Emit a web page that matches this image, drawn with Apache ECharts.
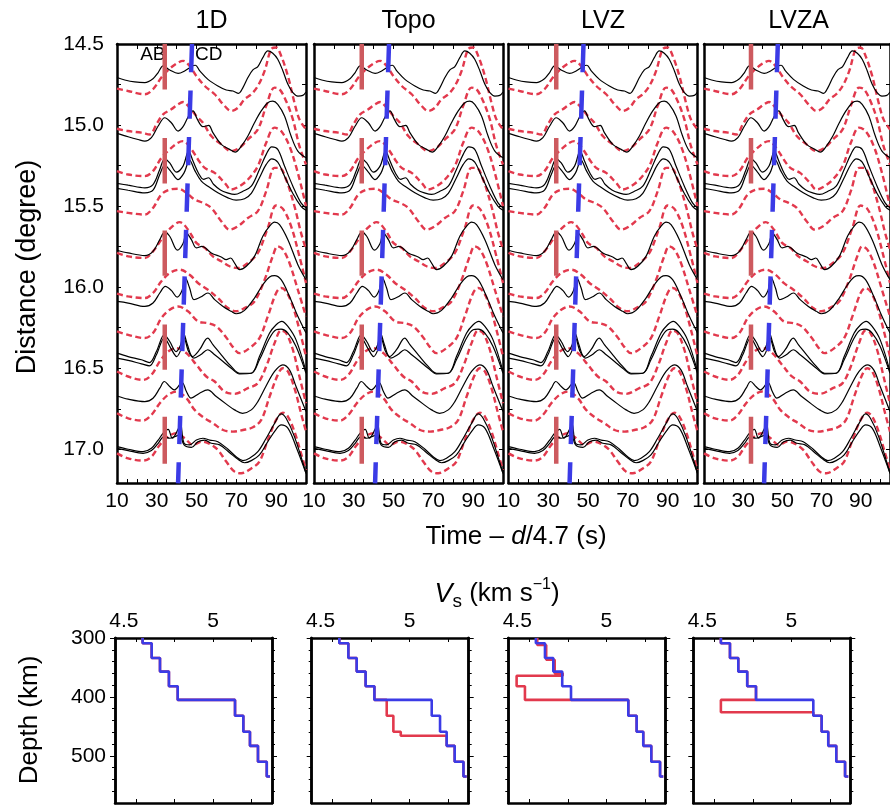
<!DOCTYPE html>
<html><head><meta charset="utf-8">
<script src="https://cdn.jsdelivr.net/npm/echarts@6/dist/echarts.min.js"></script>
<style>html,body{margin:0;padding:0;background:#fff}#c{width:890px;height:806px}</style>
</head><body><div id="c"></div>
<script>
// ---------------- data ----------------
const panelNames = ['1D', 'Topo', 'LVZ', 'LVZA'];
const timeLabels = [10, 30, 50, 70, 90];
const timeTicks = [10,15,20,25,30,35,40,45,50,55,60,65,70,75,80,85,90,95,100];
const timeTicksTop = [20,30,40,50,60,70,80,90,100];
const distLabels = [14.5, 15.0, 15.5, 16.0, 16.5, 17.0];
const distTicks = [14.75,15.0,15.25,15.5,15.75,16.0,16.25,16.5,16.75,17.0];
const vsLabels = [4.5, 5];
const vsTicks = [4.5, 4.75, 5.0, 5.25];
const depthLabels = [300, 400, 500];
const depthTicks = [320,340,360,380,420,440,460,480,520,540,560];

// observed traces (black) : [time s, distance deg]
const obs01 = [[10,14.707],[13.9,14.722],[18.9,14.734],[24,14.738],[28.1,14.714],[30.7,14.676],[33.2,14.635],[36.5,14.660],[40.7,14.681],[44,14.666],[47.4,14.639],[49.4,14.631],[51.6,14.666],[55.7,14.718],[60.7,14.759],[64.9,14.784],[68.3,14.790],[71.1,14.804],[73.3,14.769],[75.8,14.707],[78.3,14.660],[80.8,14.639],[83.3,14.584],[85.8,14.543],[88.3,14.557],[90.8,14.594],[93.4,14.666],[95.9,14.749],[98.4,14.800],[100.9,14.821],[103.4,14.817],[105,14.796]];
const obs02 = [[10,15.051],[15.6,15.072],[20.6,15.089],[24,15.099],[27.3,15.078],[30.7,15.006],[34,14.955],[37.3,14.986],[40.7,15.037],[43.2,15.010],[46,14.944],[48.2,14.913],[50.4,14.965],[53.2,15.010],[56.1,15.002],[58.2,15.047],[62.4,15.119],[66.6,15.150],[69.4,15.167],[72.5,15.130],[75.8,15.068],[79.1,14.986],[82.5,14.913],[85.8,14.862],[88.3,14.852],[90.8,14.872],[94.2,14.944],[97.5,15.068],[100.9,15.161],[105,15.202]];
const obs03 = [[10,15.360],[15.6,15.371],[24,15.387],[28.1,15.367],[31.5,15.274],[34,15.208],[36.5,15.233],[39.8,15.290],[43.2,15.253],[46,15.161],[48.2,15.222],[51.1,15.300],[53.5,15.335],[56,15.325],[58.5,15.365],[62,15.400],[65.5,15.418],[69.1,15.428],[73.3,15.408],[77.5,15.377],[81.6,15.274],[85,15.181],[87.8,15.134],[90.8,15.150],[94.2,15.253],[98.4,15.377],[102.5,15.480],[105,15.511]];
const obs04 = [[10,15.391],[15.6,15.402],[24,15.418],[28.1,15.402],[31.5,15.305],[34,15.249],[37.3,15.290],[40.7,15.336],[43.7,15.295],[46.5,15.216],[49,15.278],[52.4,15.346],[55.7,15.377],[60.7,15.418],[65.8,15.449],[69.9,15.463],[74.1,15.455],[77.5,15.422],[81.6,15.325],[85,15.243],[87.8,15.208],[90.8,15.229],[94.2,15.315],[98.4,15.422],[102.5,15.501],[105,15.525]];
const obs05 = [[10,15.772],[15.6,15.789],[24,15.805],[28.1,15.779],[31.5,15.707],[34,15.661],[36.5,15.686],[40.4,15.772],[43.2,15.731],[44.9,15.665],[47.4,15.707],[49.9,15.758],[52.7,15.748],[57.4,15.789],[62.4,15.814],[64.9,15.830],[67.1,15.820],[69.1,15.851],[71.6,15.892],[75,15.871],[79.1,15.810],[83.3,15.686],[86.7,15.624],[89.2,15.599],[91.7,15.614],[95.9,15.707],[100.9,15.861],[105,15.954]];
const obs06 = [[10,16.088],[15.6,16.098],[24,16.119],[28.1,16.098],[31.5,16.036],[34.3,15.995],[37.3,16.020],[40.2,16.061],[42.7,16.020],[44.4,15.943],[46.5,16.005],[48.7,16.077],[52,16.061],[55.7,16.036],[59.1,16.077],[63.3,16.119],[67.4,16.149],[69.9,16.164],[74.1,16.143],[79.1,16.067],[83.3,15.985],[86.7,15.937],[89.2,15.929],[92.5,15.954],[96.7,16.057],[100.9,16.180],[105,16.283]];
const obs07 = [[10,16.407],[15.6,16.428],[22.3,16.448],[26.3,16.465],[29.8,16.397],[33.8,16.294],[36.5,16.335],[39.7,16.397],[42,16.355],[43.4,16.283],[45.4,16.355],[48,16.428],[51.5,16.386],[55.6,16.314],[58.2,16.355],[62.4,16.417],[67.4,16.489],[71.6,16.531],[77.5,16.531],[81.6,16.428],[86.7,16.283],[90,16.232],[92.8,16.211],[95.9,16.242],[100,16.325],[105,16.520]];
const obs08 = [[10,16.438],[15.6,16.452],[22.3,16.473],[26.3,16.485],[29.8,16.417],[33.8,16.314],[37,16.376],[40,16.428],[42.4,16.376],[43.7,16.314],[46,16.397],[48.7,16.438],[52,16.417],[55.6,16.386],[59.1,16.417],[63.3,16.458],[67.4,16.500],[71.6,16.535],[77.5,16.531],[81.6,16.448],[86.7,16.314],[90,16.263],[92.5,16.259],[95.9,16.283],[100,16.366],[105,16.531]];
const obs09 = [[10,16.671],[15.6,16.691],[24,16.706],[28.1,16.685],[31.5,16.623],[33.8,16.582],[36.5,16.613],[38.8,16.634],[42.7,16.588],[44.9,16.644],[47.2,16.685],[51.5,16.654],[55.6,16.634],[59.9,16.675],[64.8,16.720],[69.1,16.757],[73.1,16.778],[77.5,16.757],[80.8,16.706],[84.8,16.613],[89.2,16.520],[93.3,16.479],[96.7,16.510],[100,16.613],[105,16.767]];
const obs10 = [[10,16.984],[15.6,17.000],[23.1,17.015],[27.3,16.994],[30.7,16.943],[33.2,16.901],[35.7,16.877],[37.8,16.932],[40.7,16.877],[41.9,16.840],[43.7,16.963],[46.5,16.973],[49.9,16.943],[53.2,16.932],[56.6,16.943],[60.7,16.953],[65.8,17.000],[69.9,17.046],[73.3,17.070],[76.6,17.056],[80.8,17.015],[85,16.932],[89.2,16.840],[92.5,16.782],[95,16.809],[99.2,16.922],[105,17.148]];
const obs11 = [[10,16.994],[15.6,17.008],[23.1,17.025],[27.3,17.008],[30.7,16.963],[33.7,16.922],[36.5,16.932],[39,16.922],[41.5,16.911],[43.7,16.973],[47.4,16.988],[50.7,16.953],[54.1,16.943],[57.4,16.963],[61.6,16.973],[66.6,17.021],[70.8,17.062],[74.1,17.083],[77.5,17.070],[81.6,17.035],[85.8,16.953],[90,16.877],[92.5,16.850],[95.9,16.870],[100,16.984],[105,17.148]];

// synthetic traces (red dashed) : [time s, distance deg]
const syn01 = [[10,14.775],[15.6,14.790],[24,14.810],[28.1,14.779],[32.3,14.707],[36.5,14.652],[40.7,14.615],[43.2,14.604],[46.5,14.635],[49.9,14.697],[54.1,14.759],[59.1,14.810],[64.1,14.882],[67.4,14.913],[70.8,14.893],[74.1,14.841],[77.5,14.810],[80.8,14.759],[84.2,14.666],[87.5,14.532],[90,14.522],[92.5,14.573],[95.9,14.697],[99.2,14.862],[101.7,14.965],[105,15.027]];
const syn02 = [[10,15.023],[15.6,15.037],[22.3,15.047],[26.5,15.058],[29.8,14.996],[33.2,14.934],[37.3,14.903],[40.7,14.872],[43.2,14.858],[46.5,14.893],[49.9,14.944],[53.2,14.986],[57.4,15.068],[62.4,15.119],[67.4,15.161],[71.6,15.140],[75.8,15.089],[80.8,15.027],[85,14.882],[89.2,14.769],[91.7,14.779],[95,14.852],[98.4,14.965],[101.7,15.130],[105,15.243]];
const syn03 = [[10,15.284],[15.6,15.305],[24,15.315],[28.1,15.284],[32.3,15.202],[36.5,15.150],[40.7,15.109],[43.2,15.099],[47.4,15.150],[50.7,15.212],[54.1,15.264],[59.1,15.295],[64.1,15.356],[67.4,15.398],[71.6,15.377],[75.8,15.336],[80.8,15.253],[85,15.109],[89.2,15.016],[92.5,15.037],[96.7,15.130],[100.9,15.295],[105,15.501]];
const syn04 = [[10,15.531],[15.6,15.542],[24,15.552],[28.1,15.511],[32.3,15.428],[36.5,15.398],[40.7,15.393],[44.9,15.418],[49,15.459],[53.2,15.480],[57.4,15.511],[62.4,15.593],[66.6,15.645],[70.8,15.624],[75.8,15.573],[80.8,15.531],[85,15.408],[89.2,15.264],[91.7,15.264],[95,15.336],[99.2,15.501],[102.5,15.665],[105,15.768]];
const syn05 = [[10,15.789],[15.6,15.810],[24,15.820],[28.1,15.779],[32.3,15.707],[36.5,15.641],[41.5,15.599],[45.7,15.645],[49.9,15.727],[54.1,15.758],[58.2,15.810],[62.4,15.840],[66.6,15.871],[70.8,15.882],[75.8,15.851],[80.8,15.789],[85.8,15.634],[90,15.496],[93.4,15.517],[97.5,15.624],[101.7,15.810],[105,15.974]];
const syn06 = [[10,16.040],[15.6,16.057],[24,16.067],[28.1,16.036],[32.3,15.964],[36.5,15.913],[41.5,15.892],[46.5,15.923],[50.7,15.974],[55.7,16.016],[60.7,16.067],[65.8,16.129],[69.9,16.149],[74.1,16.129],[79.1,16.088],[84.2,15.954],[88.3,15.809],[90.8,15.748],[93.4,15.768],[96.7,15.851],[100.9,16.016],[105,16.180]];
const syn07 = [[10,16.273],[15.6,16.294],[24,16.314],[28.1,16.283],[32.3,16.191],[36.5,16.139],[40.7,16.119],[45.7,16.149],[50.7,16.211],[55.7,16.222],[59.9,16.242],[64.9,16.310],[68.3,16.370],[71.6,16.407],[76.6,16.376],[81.6,16.314],[85.8,16.180],[90,16.036],[92.5,16.005],[95,16.026],[98.4,16.119],[101.7,16.263],[105,16.427]];
const syn08 = [[10,16.520],[15.6,16.551],[23.1,16.572],[27.3,16.541],[31.5,16.458],[35.7,16.397],[39.8,16.376],[44.9,16.407],[49.9,16.479],[54.9,16.551],[59.1,16.582],[64.1,16.644],[69.1,16.658],[75.8,16.623],[80.8,16.592],[85,16.489],[89.2,16.345],[92.5,16.267],[95,16.283],[98.4,16.386],[101.7,16.551],[105,16.716]];
const syn09 = [[10,16.778],[15.6,16.809],[23.1,16.823],[27.3,16.788],[31.5,16.716],[35.7,16.664],[39.8,16.644],[44.9,16.685],[49,16.757],[54.1,16.809],[58.2,16.839],[63.3,16.881],[68.3,16.891],[73.3,16.881],[78.3,16.864],[82.5,16.819],[86.7,16.675],[90.8,16.541],[93.3,16.500],[95.9,16.520],[99.2,16.623],[102.5,16.778],[105,16.891]];
const syn10 = [[10,17.025],[15.6,17.056],[23.1,17.070],[27.3,17.046],[31.5,16.973],[35.7,16.922],[39.8,16.901],[44,16.932],[48.2,16.973],[52.4,16.953],[56.6,16.967],[60.7,17.004],[64.9,17.076],[69.1,17.138],[72.5,17.148],[77.5,17.118],[81.6,17.076],[85.8,16.943],[90,16.819],[93.4,16.774],[95.9,16.798],[99.2,16.891],[102.5,17.025],[105,17.128]];

const observed = [obs01, obs02, obs03, obs04, obs05, obs06, obs07, obs08, obs09, obs10, obs11];
const synthetic = [syn01, syn02, syn03, syn04, syn05, syn06, syn07, syn08, syn09, syn10];

// phase markers
const abTime = 34.0;
const abRanges = [[14.50, 14.78], [15.08, 15.36], [15.65, 15.93], [16.23, 16.51], [16.80, 17.09]];
const cdLine = [[47.7, 14.50], [40.7, 17.21]];

// velocity models: Vs applies from depth[i] to depth[i+1]
const depth1D   = [300, 309, 334, 357, 382, 405, 432, 459, 483, 510, 535];
const vs1D      = [4.543, 4.602, 4.656, 4.714, 4.771, 5.143, 5.197, 5.240, 5.292, 5.349, 5.370];
const depthTopo = [300, 309, 334, 357, 382, 405, 432, 459, 466, 483, 510, 535];
const vsTopo    = [4.543, 4.602, 4.656, 4.714, 4.771, 4.851, 4.894, 4.942, 5.240, 5.292, 5.349, 5.370];
const depthLVZ  = [300, 312, 337, 360, 364, 382, 405, 432, 459, 483, 510, 535];
const vsLVZ     = [4.552, 4.610, 4.665, 4.717, 4.418, 4.472, 5.143, 5.197, 5.240, 5.292, 5.349, 5.370];
const depthLVZA = [300, 309, 334, 357, 382, 405, 426, 432, 459, 483, 510, 535];
const vsLVZA    = [4.543, 4.602, 4.656, 4.714, 4.771, 4.543, 5.143, 5.197, 5.240, 5.292, 5.349, 5.370];
const redModels = [[depth1D, vs1D], [depthTopo, vsTopo], [depthLVZ, vsLVZ], [depthLVZA, vsLVZA]];

// ---------------- layout / style ----------------
const FONT = "'Liberation Sans', Arial, Helvetica, sans-serif";
const RED = '#e2394d', BLUE = '#3b3be6', ABC = '#cd5a5f';
const topL = [117, 314, 508.5, 704], topW = 189, topT = 44, topH = 439;
const botL = [115, 311.7, 508.3, 693.3], botW = 157, botT = 638, botH = 165;

function stair(depths, vels) {
  const pts = [];
  for (let i = 0; i < depths.length; i++) {
    pts.push([vels[i], depths[i]]);
    if (i + 1 < depths.length) pts.push([vels[i], depths[i + 1]]);
  }
  return pts;
}

const grid = [], xAxis = [], yAxis = [], series = [];
const axLine = { show: true, onZero: false, lineStyle: { color: '#000', width: 2.5 } };
const tickStyle = { color: '#000', width: 1 };

for (let p = 0; p < 4; p++) {
  grid.push({ left: topL[p], top: topT, width: topW, height: topH });
  xAxis.push({ gridIndex: p, type: 'value', min: 10, max: 105, position: 'bottom', axisLine: axLine,
    axisTick: { show: true, inside: true, length: 4, customValues: timeTicks, lineStyle: tickStyle },
    axisLabel: { show: true, customValues: timeLabels, color: '#000', fontSize: 21, fontFamily: FONT, margin: 8 },
    splitLine: { show: false } });
  xAxis.push({ gridIndex: p, type: 'value', min: 10, max: 105, position: 'top', axisLine: axLine,
    axisTick: { show: true, inside: true, length: 5, customValues: timeTicksTop, lineStyle: tickStyle },
    axisLabel: { show: false }, splitLine: { show: false } });
  yAxis.push({ gridIndex: p, type: 'value', inverse: true, min: 14.5, max: 17.208, position: 'left', axisLine: axLine,
    axisTick: { show: true, inside: true, length: 4, customValues: distTicks, lineStyle: tickStyle },
    axisLabel: { show: p === 0, customValues: distLabels, formatter: v => Number(v).toFixed(1), color: '#000', fontSize: 21, fontFamily: FONT, margin: 13, padding: [4, 0, 0, 0] },
    splitLine: { show: false } });
  yAxis.push({ gridIndex: p, type: 'value', inverse: true, min: 14.5, max: 17.208, position: 'right', axisLine: axLine,
    axisTick: { show: true, inside: true, length: 4, customValues: distTicks, lineStyle: tickStyle },
    axisLabel: { show: false }, splitLine: { show: false } });

  const xi = 2 * p, yi = 2 * p;
  synthetic.forEach(tr => series.push({ type: 'line', xAxisIndex: xi, yAxisIndex: yi, data: tr, smooth: 0.35,
    symbol: 'none', silent: true, z: 2, lineStyle: { color: RED, width: 2.4, type: [6, 3.5] } }));
  observed.forEach(tr => series.push({ type: 'line', xAxisIndex: xi, yAxisIndex: yi, data: tr, smooth: 0.35,
    symbol: 'none', silent: true, z: 3, lineStyle: { color: '#000', width: 1.2 } }));
  abRanges.forEach(r => series.push({ type: 'line', xAxisIndex: xi, yAxisIndex: yi,
    data: [[abTime, r[0]], [abTime, r[1]]], symbol: 'none', silent: true, z: 4,
    lineStyle: { color: ABC, width: 4.5 } }));
  series.push({ type: 'line', xAxisIndex: xi, yAxisIndex: yi, data: cdLine, symbol: 'none', silent: true, z: 5,
    lineStyle: { color: BLUE, width: 4.5, type: [28.3, 18.2] } });
  if (p === 0) {
    [['AB', 28.0], ['CD', 56.1]].forEach(([name, t]) => series.push({ type: 'scatter', xAxisIndex: xi, yAxisIndex: yi,
      symbolSize: 1, silent: true, z: 3, itemStyle: { opacity: 0 },
      data: [[t, 14.565]], label: { show: true, position: 'inside', formatter: name, color: '#000', opacity: 1,
        fontSize: 19, fontFamily: FONT } }));
  }
}

for (let q = 0; q < 4; q++) {
  const g = 4 + q;
  grid.push({ left: botL[q], top: botT, width: botW, height: botH });
  const xTop = xAxis.length;
  xAxis.push({ gridIndex: g, type: 'value', min: 4.364, max: 5.383, position: 'top', axisLine: axLine,
    axisTick: { show: true, inside: true, length: 4, customValues: vsTicks, lineStyle: tickStyle },
    axisLabel: { show: true, customValues: vsLabels, color: '#000', fontSize: 21, fontFamily: FONT, margin: 6,
      formatter: v => (Math.abs(v - 4.5) < 1e-6 ? '{s|4.5}' : String(v)),
      rich: { s: { fontSize: 21, fontFamily: FONT, color: '#000', padding: [0, 24, 0, 0] } } },
    splitLine: { show: false } });
  xAxis.push({ gridIndex: g, type: 'value', min: 4.364, max: 5.383, position: 'bottom', axisLine: axLine,
    axisTick: { show: true, inside: true, length: 4, customValues: vsTicks, lineStyle: tickStyle },
    axisLabel: { show: false }, splitLine: { show: false } });
  const yL = yAxis.length;
  ['left', 'right'].forEach(pos => {
    yAxis.push({ gridIndex: g, type: 'value', inverse: true, min: 300, max: 580, position: pos, axisLine: axLine,
      axisTick: { show: true, inside: false, length: 3, customValues: depthTicks, lineStyle: tickStyle },
      axisLabel: { show: false }, splitLine: { show: false } });
    yAxis.push({ gridIndex: g, type: 'value', inverse: true, min: 300, max: 580, position: pos, axisLine: axLine,
      axisTick: { show: true, inside: false, length: 5, customValues: depthLabels, lineStyle: tickStyle },
      axisLabel: { show: q === 0 && pos === 'left', customValues: depthLabels, color: '#000', fontSize: 21, fontFamily: FONT, margin: 9 },
      splitLine: { show: false } });
  });
  const rm = redModels[q];
  series.push({ type: 'line', xAxisIndex: xTop, yAxisIndex: yL, data: stair(rm[0], rm[1]), symbol: 'none', silent: true, z: 2,
    lineStyle: { color: RED, width: 2.6 } });
  series.push({ type: 'line', xAxisIndex: xTop, yAxisIndex: yL, data: stair(depth1D, vs1D), symbol: 'none', silent: true, z: 3,
    lineStyle: { color: BLUE, width: 2.6 } });
}

const txt = (x, y, text, size, extra) => Object.assign({ type: 'text', x: x, y: y, silent: true,
  style: { text: text, fontSize: size, fontFamily: FONT, fill: '#000', align: 'center', verticalAlign: 'middle',
    textAlign: 'center', textVerticalAlign: 'middle' } }, extra || {});

const graphic = [];
panelNames.forEach((n, i) => graphic.push(txt(topL[i] + topW / 2, 21, n, 25)));
graphic.push(txt(28, 267, 'Distance (degree)', 27, { rotation: Math.PI / 2 }));
graphic.push(txt(30, 720, 'Depth (km)', 26, { rotation: Math.PI / 2 }));
const richBase = { fontSize: 26, fontFamily: FONT, fill: '#000', color: '#000', lineHeight: 34, verticalAlign: 'middle' };
graphic.push({ type: 'text', x: 516, y: 537, silent: true, style: {
  text: '{n|Time – }{i|d}{n|/4.7 (s)}', align: 'center', verticalAlign: 'middle', textAlign: 'center', textVerticalAlign: 'middle',
  rich: { n: richBase, i: Object.assign({}, richBase, { fontStyle: 'italic' }) } } });
graphic.push({ type: 'text', x: 497, y: 594, silent: true, style: {
  text: '{i|V}{sub|s}{n| (km s}{sup|−1}{n|)}', align: 'center', verticalAlign: 'middle', textAlign: 'center', textVerticalAlign: 'middle',
  rich: { n: richBase, i: Object.assign({}, richBase, { fontStyle: 'italic', fontSize: 27 }),
    sub: { fontSize: 19, fontFamily: FONT, fill: '#000', color: '#000', lineHeight: 14, verticalAlign: 'bottom' },
    sup: { fontSize: 16, fontFamily: FONT, fill: '#000', color: '#000', lineHeight: 12, verticalAlign: 'top' } } } });

const chart = echarts.init(document.getElementById('c'), null, { renderer: 'canvas' });
chart.setOption({ backgroundColor: '#fff', animation: false, grid, xAxis, yAxis, series, graphic });
</script></body></html>
